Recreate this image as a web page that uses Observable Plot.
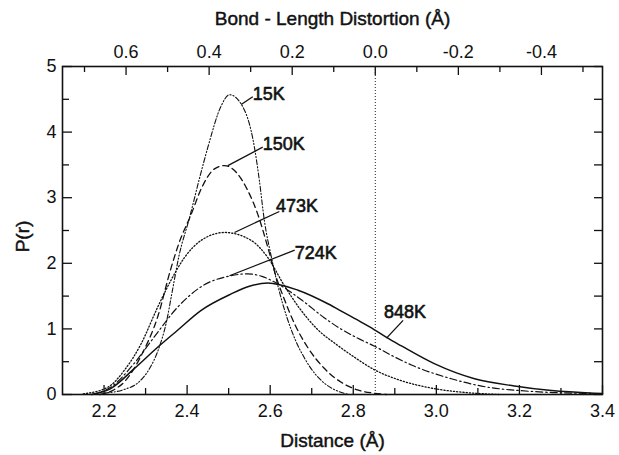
<!DOCTYPE html>
<html>
<head>
<meta charset="utf-8">
<script src="https://cdn.jsdelivr.net/npm/d3@7"></script>
<script src="https://cdn.jsdelivr.net/npm/@observablehq/plot@0.6"></script>
<style>
  html, body { margin: 0; padding: 0; background: #fff; }
</style>
</head>
<body>
<div id="chart"></div>
<script>
// ---- Data ----
const zeroDistance = 2.853; // distance (Å) where the bond-length distortion is 0.0

const bottomTicks = [2.2, 2.4, 2.6, 2.8, 3.0, 3.2, 3.4];
const bottomMinor = [2.3, 2.5, 2.7, 2.9, 3.1, 3.3];
const topTicks = [0.6, 0.4, 0.2, 0.0, -0.2, -0.4];
const topMinor = [0.7, 0.5, 0.3, 0.1, -0.1, -0.3, -0.5];
const yTicks = [0, 1, 2, 3, 4, 5];
const yMinor = [0.5, 1.5, 2.5, 3.5, 4.5];

const temps = ["15K", "150K", "473K", "724K", "848K"];

const r15 = [2.20, 2.25, 2.28, 2.31, 2.33, 2.35, 2.365, 2.38, 2.406, 2.43, 2.45, 2.482, 2.502, 2.53, 2.562, 2.574, 2.586, 2.602, 2.62, 2.64, 2.66, 2.683, 2.71, 2.731, 2.763, 2.79];
const p15 = [0.02, 0.08, 0.17, 0.40, 0.67, 1.10, 1.60, 2.10, 2.70, 3.30, 3.77, 4.40, 4.57, 4.43, 3.77, 3.26, 2.65, 2.12, 1.62, 1.18, 0.84, 0.55, 0.30, 0.17, 0.05, 0.0];

const r150 = [2.19, 2.22, 2.25, 2.29, 2.33, 2.36, 2.38, 2.41, 2.435, 2.466, 2.49, 2.522, 2.546, 2.57, 2.594, 2.614, 2.636, 2.66, 2.69, 2.73, 2.77, 2.81, 2.85, 2.88];
const p150 = [0.0, 0.06, 0.20, 0.60, 1.20, 1.90, 2.30, 2.75, 3.15, 3.44, 3.49, 3.36, 3.11, 2.75, 2.25, 1.80, 1.42, 1.06, 0.72, 0.40, 0.19, 0.07, 0.02, 0.0];

const r473 = [2.15, 2.209, 2.249, 2.289, 2.329, 2.361, 2.394, 2.434, 2.49, 2.554, 2.594, 2.634, 2.67, 2.716, 2.76, 2.80, 2.85, 2.916, 2.995, 3.092, 3.15];
const p473 = [0.01, 0.11, 0.37, 0.77, 1.33, 1.74, 2.09, 2.35, 2.47, 2.35, 2.09, 1.66, 1.32, 0.98, 0.76, 0.58, 0.38, 0.21, 0.09, 0.02, 0.0];

const r724 = [2.17, 2.216, 2.272, 2.32, 2.377, 2.433, 2.505, 2.545, 2.58, 2.62, 2.68, 2.73, 2.77, 2.81, 2.85, 2.90, 2.94, 3.036, 3.125, 3.2, 3.28, 3.38, 3.4];
const p724 = [0.0, 0.11, 0.47, 0.87, 1.33, 1.64, 1.81, 1.84, 1.80, 1.68, 1.42, 1.17, 1.00, 0.86, 0.74, 0.57, 0.45, 0.24, 0.11, 0.06, 0.03, 0.015, 0.012];

const r848 = [2.17, 2.216, 2.272, 2.329, 2.377, 2.433, 2.505, 2.55, 2.594, 2.667, 2.74, 2.78, 2.82, 2.85, 2.88, 2.916, 2.995, 3.092, 3.188, 3.277, 3.38, 3.4];
const p848 = [0.0, 0.09, 0.39, 0.72, 0.98, 1.28, 1.53, 1.65, 1.70, 1.59, 1.38, 1.24, 1.10, 0.99, 0.87, 0.74, 0.47, 0.24, 0.13, 0.06, 0.02, 0.015];

// annotation labels (data coordinates)
const labelR = [2.558, 2.582, 2.614, 2.659, 2.874];
const labelP = [4.57, 3.81, 2.87, 2.16, 1.26];
const leaderR1 = [2.530, 2.498, 2.514, 2.502, 2.880];
const leaderP1 = [4.42, 3.49, 2.47, 1.81, 0.86];
const leaderR2 = [2.558, 2.582, 2.622, 2.659, 2.920];
const leaderP2 = [4.54, 3.77, 2.79, 2.20, 1.13];

// ---- Build tables ----
const seriesR = [r15, r150, r473, r724, r848];
const seriesP = [p15, p150, p473, p724, p848];
const dashes = ["5,2,1.2,2,1.2,2", "6,4", "1.2,2", "7,3,1.5,3", null];
const widths = [1.1, 1.3, 1.3, 1.2, 1.5];

const curves = temps.map((t, i) => seriesR[i].map((r, j) => ({temp: t, r, p: seriesP[i][j]})));
const labels = temps.map((t, i) => ({text: t, r: labelR[i], p: labelP[i], r1: leaderR1[i], p1: leaderP1[i], r2: leaderR2[i], p2: leaderP2[i]}));

const frameH = 455 - 66 - 61;
const frameW = 619 - 62 - 17;

const lineMarks = curves.map((data, i) => Plot.line(data, {
  x: "r", y: "p", stroke: "#111", strokeWidth: widths[i],
  strokeDasharray: dashes[i] || undefined, curve: "monotone-x"
}));

const txt = {fill: "#111", stroke: "#111", strokeWidth: 0.45};

const chart = Plot.plot({
  width: 619,
  height: 455,
  marginLeft: 62,
  marginRight: 17,
  marginTop: 66,
  marginBottom: 61,
  x: {domain: [2.1, 3.4]},
  y: {domain: [0, 5]},
  style: {fontFamily: "'Liberation Sans', Arial, sans-serif", fontSize: "18px", color: "#111", background: "#fff"},
  marks: [
    // tick labels
    Plot.axisX({anchor: "bottom", ticks: bottomTicks, tickSize: 0, tickPadding: 10, tickFormat: d => d.toFixed(1), label: null, fontSize: 18, ...txt}),
    Plot.axisX({anchor: "top", ticks: topTicks.map(v => zeroDistance - v), tickSize: 0, tickPadding: 9,
      tickFormat: d => (Math.round((zeroDistance - d) * 10) / 10).toFixed(1), label: null, fontSize: 18, ...txt}),
    Plot.axisY({anchor: "left", ticks: yTicks, tickSize: 0, tickPadding: 6, tickFormat: d => String(d), label: null, fontSize: 18, ...txt}),
    // inward ticks
    Plot.tickX(bottomTicks, {x: d => d, insetTop: frameH - 9, stroke: "#111", strokeWidth: 1.3}),
    Plot.tickX(bottomMinor, {x: d => d, insetTop: frameH - 6, stroke: "#111", strokeWidth: 1.3}),
    Plot.tickX(topTicks.map(v => zeroDistance - v), {x: d => d, insetBottom: frameH - 9, stroke: "#111", strokeWidth: 1.3}),
    Plot.tickX(topMinor.map(v => zeroDistance - v), {x: d => d, insetBottom: frameH - 6, stroke: "#111", strokeWidth: 1.3}),
    Plot.tickY(yTicks, {y: d => d, insetRight: frameW - 10, stroke: "#111", strokeWidth: 1.3}),
    Plot.tickY(yMinor, {y: d => d, insetRight: frameW - 7, stroke: "#111", strokeWidth: 1.3}),
    Plot.tickY(yTicks.concat(yMinor), {y: d => d, insetLeft: frameW - 8, stroke: "#111", strokeWidth: 1.3}),
    // zero-distortion reference line
    Plot.ruleX([zeroDistance], {stroke: "#222", strokeWidth: 1, strokeDasharray: "1,2"}),
    // curves
    ...lineMarks,
    // leaders and labels
    Plot.link(labels, {x1: "r1", y1: "p1", x2: "r2", y2: "p2", stroke: "#111", strokeWidth: 1.3}),
    Plot.text(labels, {x: "r", y: "p", text: "text", textAnchor: "start", fontSize: 18, ...txt, strokeWidth: 0.6}),
    // axis titles
    Plot.text(["Distance (Å)"], {frameAnchor: "bottom", lineAnchor: "middle", dy: 46, fontSize: 19, ...txt}),
    Plot.text(["Bond - Length Distortion (Å)"], {frameAnchor: "top", lineAnchor: "middle", dy: -48, fontSize: 19, ...txt}),
    Plot.text(["P(r)"], {frameAnchor: "left", textAnchor: "middle", lineAnchor: "middle", dx: -40, dy: 6, rotate: -90, fontSize: 19, ...txt}),
    Plot.frame({stroke: "#111", strokeWidth: 1.6})
  ]
});

document.getElementById("chart").appendChild(chart);
</script>
</body>
</html>
